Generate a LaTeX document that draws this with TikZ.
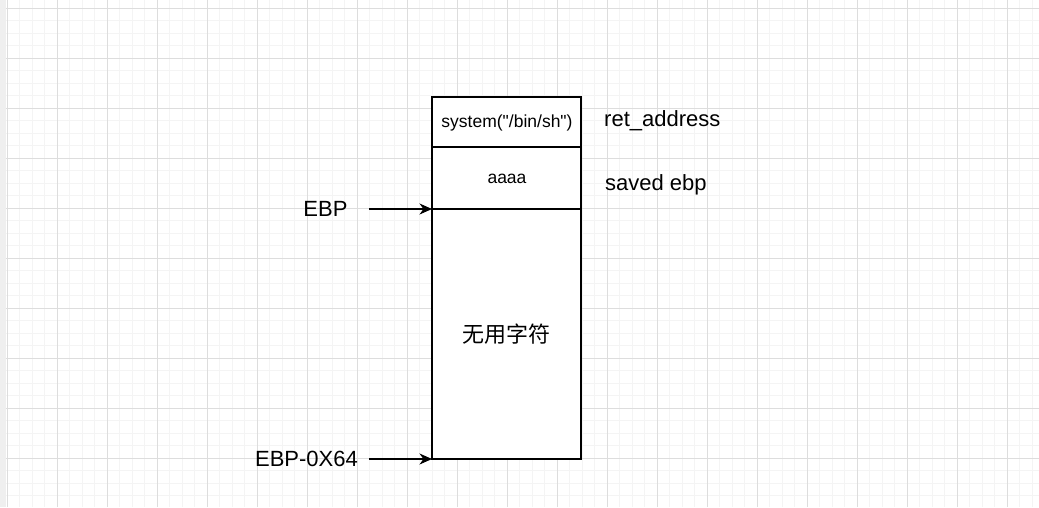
\documentclass[tikz,border=0pt]{standalone}
\usepackage{fontspec}
\setmainfont{Liberation Sans}[Ligatures=TeXOff]
\newfontfamily\cjk{Noto Sans CJK SC}
\usetikzlibrary{arrows.meta}
\definecolor{minorgrid}{HTML}{F4F4F4}
\definecolor{majorgrid}{HTML}{DDDDDD}
\definecolor{edgeband}{HTML}{EFEFEF}
\tikzset{
  cell/.style={draw=black, line width=1.1pt, minimum width=149pt, inner sep=0pt, outer sep=0pt, anchor=north west},
  bigtxt/.style={font=\fontsize{22}{26}\selectfont, inner sep=0pt},
  smalltxt/.style={font=\fontsize{17.5}{21}\selectfont, inner sep=0pt},
  ptr/.style={draw=black, line width=1.1pt, -{Stealth[length=12.5pt,width=11pt,inset=4pt]}},
}
\begin{document}
\begin{tikzpicture}[x=1pt,y=-1pt]
\useasboundingbox (0,0) rectangle (1039,507);
\fill[white] (0,0) rectangle (1039,507);
% grid
\foreach \i in {0,...,83} {
  \draw[minorgrid, line width=1pt] ({7+12.5*\i},0) -- ({7+12.5*\i},507);
}
\foreach \j in {0,...,41} {
  \draw[minorgrid, line width=1pt] (0,{8+12.5*\j}) -- (1039,{8+12.5*\j});
}
\foreach \i in {0,...,20} {
  \draw[majorgrid, line width=1pt] ({7+50*\i},0) -- ({7+50*\i},507);
}
\foreach \j in {0,...,10} {
  \draw[majorgrid, line width=1pt] (0,{8+50*\j}) -- (1039,{8+50*\j});
}
\fill[edgeband] (0,0) rectangle (6,507);
% stack cells
\node[cell, fill=white, minimum height=50pt] (ret) at (432,97) {};
\node[cell, fill=white, minimum height=62pt] (ebpcell) at (432,147) {};
\node[cell, fill=white, minimum height=250pt] (buf) at (432,209) {};
\node[smalltxt] (sys) at (507,123) {system("/bin/sh")};
\node[smalltxt] (aaaa) at (507,178.5) {aaaa};
\node[bigtxt] (junk) at (buf.center) {\cjk 无用字符};
% right labels
\node[bigtxt, anchor=west] (retlbl) at (604,121) {ret\_address};
\node[bigtxt, anchor=west] (savedlbl) at (605,185) {saved ebp};
% pointers
\node[bigtxt] (ebp) at (325.5,209) {EBP};
\node[bigtxt] (ebp64) at (306.5,459) {EBP-0X64};
\coordinate (ebpstart) at (369,209);
\coordinate (ebp64start) at (369,459);
\draw[ptr] (ebpstart) -- (buf.north west);
\draw[ptr] (ebp64start) -- (buf.south west);
\end{tikzpicture}
\end{document}
